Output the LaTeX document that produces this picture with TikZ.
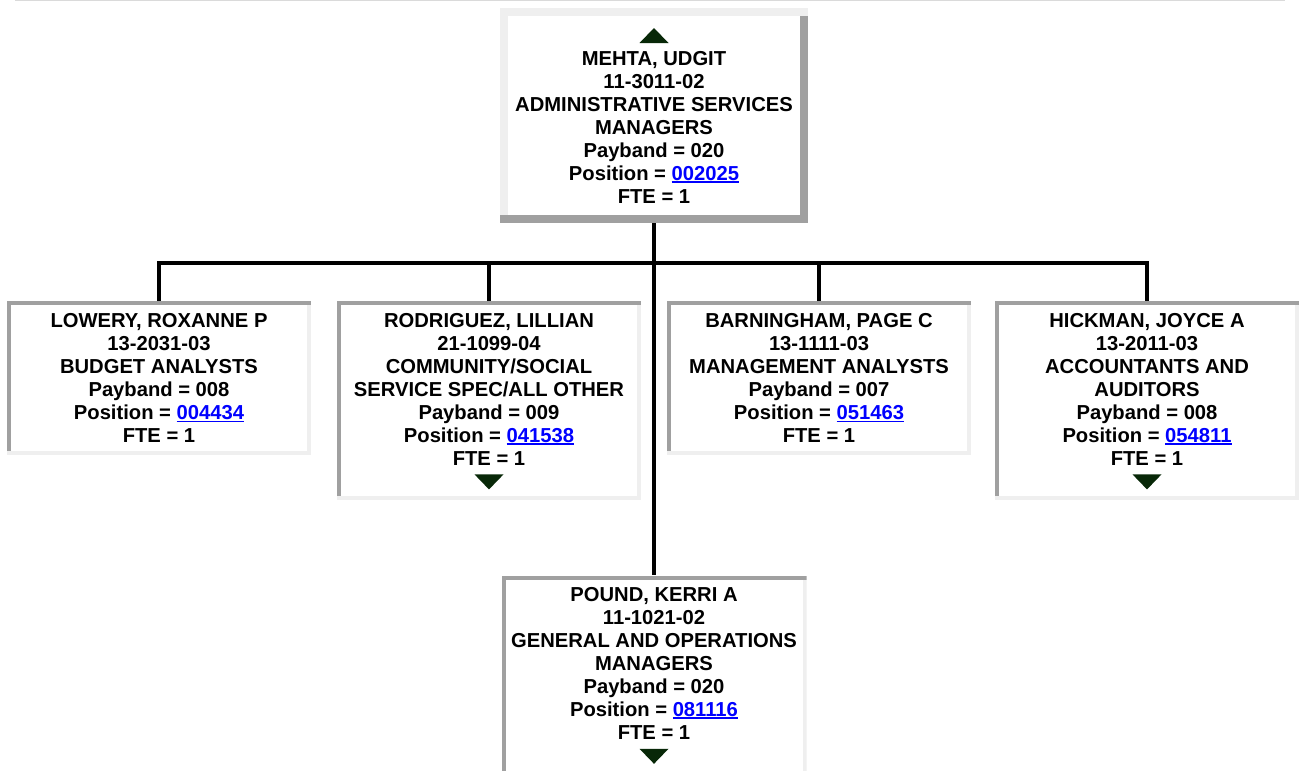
\documentclass[tikz,border=0pt]{standalone}
\usepackage{fontspec}
\setmainfont{Liberation Sans}
\usetikzlibrary{positioning}

\definecolor{bevellight}{RGB}{239,239,239}
\definecolor{beveldark}{RGB}{160,160,160}
\definecolor{linkblue}{RGB}{0,0,255}
\definecolor{arrowgreen}{RGB}{8,40,8}
\definecolor{rulegray}{RGB}{218,218,218}

% blue underlined position number
\newcommand{\poslink}[1]{\textcolor{linkblue}{\setbox0\hbox{#1}\rlap{\rule[-2.6pt]{\wd0}{1.8pt}}\box0}}
% empty line kept for the expand/collapse arrow
\newcommand{\arrowgap}{\rule{0pt}{14pt}}
\newcommand{\triup}[1]{\fill[arrowgreen] (#1) ++(-14.5pt,-7.5pt) -- ++(29pt,0pt) -- ++(-14.5pt,15pt) -- cycle;}
\newcommand{\tridown}[1]{\fill[arrowgreen] (#1) ++(-14.5pt,7.5pt) -- ++(29pt,0pt) -- ++(-14.5pt,-15pt) -- cycle;}

\begin{document}
\begin{tikzpicture}[
  x=1pt, y=-1pt,
  font=\fontsize{20.2}{23}\selectfont\bfseries,
  wire/.style={line width=3.8pt},
  bevel/.style n args={3}{path picture={
    \fill[#1] (path picture bounding box.north west) rectangle ([yshift=-#3]path picture bounding box.north east);
    \fill[#2] (path picture bounding box.south west) rectangle ([yshift=#3]path picture bounding box.south east);
    \fill[#1] ([yshift=-#3]path picture bounding box.north west) rectangle ([shift={(#3,#3)}]path picture bounding box.south west);
    \fill[#2] ([yshift=-#3]path picture bounding box.north east) rectangle ([shift={(-#3,#3)}]path picture bounding box.south east);
  }},
  card/.style={fill=white, align=center, inner sep=0pt, anchor=north, minimum width=304pt},
  raised/.style={card, minimum width=308pt, bevel={bevellight}{beveldark}{8pt}},
  sunken/.style={card, bevel={beveldark}{bevellight}{4pt}},
]
\useasboundingbox (0,0) rectangle (1299,771);

% ── page rule ──
\draw[rulegray, line width=1.2pt] (15,0.6) -- (1285,0.6);

% ── manager ──
\node[raised, minimum height=215pt] (mehta) at (654,8)
  {\arrowgap\\MEHTA, UDGIT\\11-3011-02\\ADMINISTRATIVE SERVICES\\MANAGERS\\
   Payband = 020\\Position = \poslink{002025}\\FTE = 1};

% ── direct reports ──
\node[sunken, minimum height=154pt] (lowery) at (159,301)
  {LOWERY, ROXANNE P\\13-2031-03\\BUDGET ANALYSTS\\
   Payband = 008\\Position = \poslink{004434}\\FTE = 1};
\node[sunken, minimum height=199pt] (rodriguez) at (489,301)
  {RODRIGUEZ, LILLIAN\\21-1099-04\\COMMUNITY/SOCIAL\\SERVICE SPEC/ALL OTHER\\
   Payband = 009\\Position = \poslink{041538}\\FTE = 1\\\arrowgap};
\node[sunken, minimum height=154pt] (barningham) at (819,301)
  {BARNINGHAM, PAGE C\\13-1111-03\\MANAGEMENT ANALYSTS\\
   Payband = 007\\Position = \poslink{051463}\\FTE = 1};
\node[sunken, minimum height=199pt] (hickman) at (1147,301)
  {HICKMAN, JOYCE A\\13-2011-03\\ACCOUNTANTS AND\\AUDITORS\\
   Payband = 008\\Position = \poslink{054811}\\FTE = 1\\\arrowgap};
\node[sunken, minimum width=305pt, minimum height=199pt, below=352pt of mehta] (pound)
  {POUND, KERRI A\\11-1021-02\\GENERAL AND OPERATIONS\\MANAGERS\\
   Payband = 020\\Position = \poslink{081116}\\FTE = 1\\\arrowgap};

% ── arrows ──
\triup{[yshift=-27.5pt]mehta.north}
\tridown{[yshift=18.5pt]rodriguez.south}
\tridown{[yshift=18.5pt]hickman.south}
\tridown{[yshift=18.5pt]pound.south}

% ── lines ──
\coordinate (bus) at (654,263);
\draw[wire] (mehta.south) -- (pound.north);
\draw[wire] (lowery.north) -- (lowery.north |- bus) -- (hickman.north |- bus) -- (hickman.north);
\draw[wire] (rodriguez.north) -- (rodriguez.north |- bus);
\draw[wire] (barningham.north) -- (barningham.north |- bus);

\end{tikzpicture}
\end{document}
